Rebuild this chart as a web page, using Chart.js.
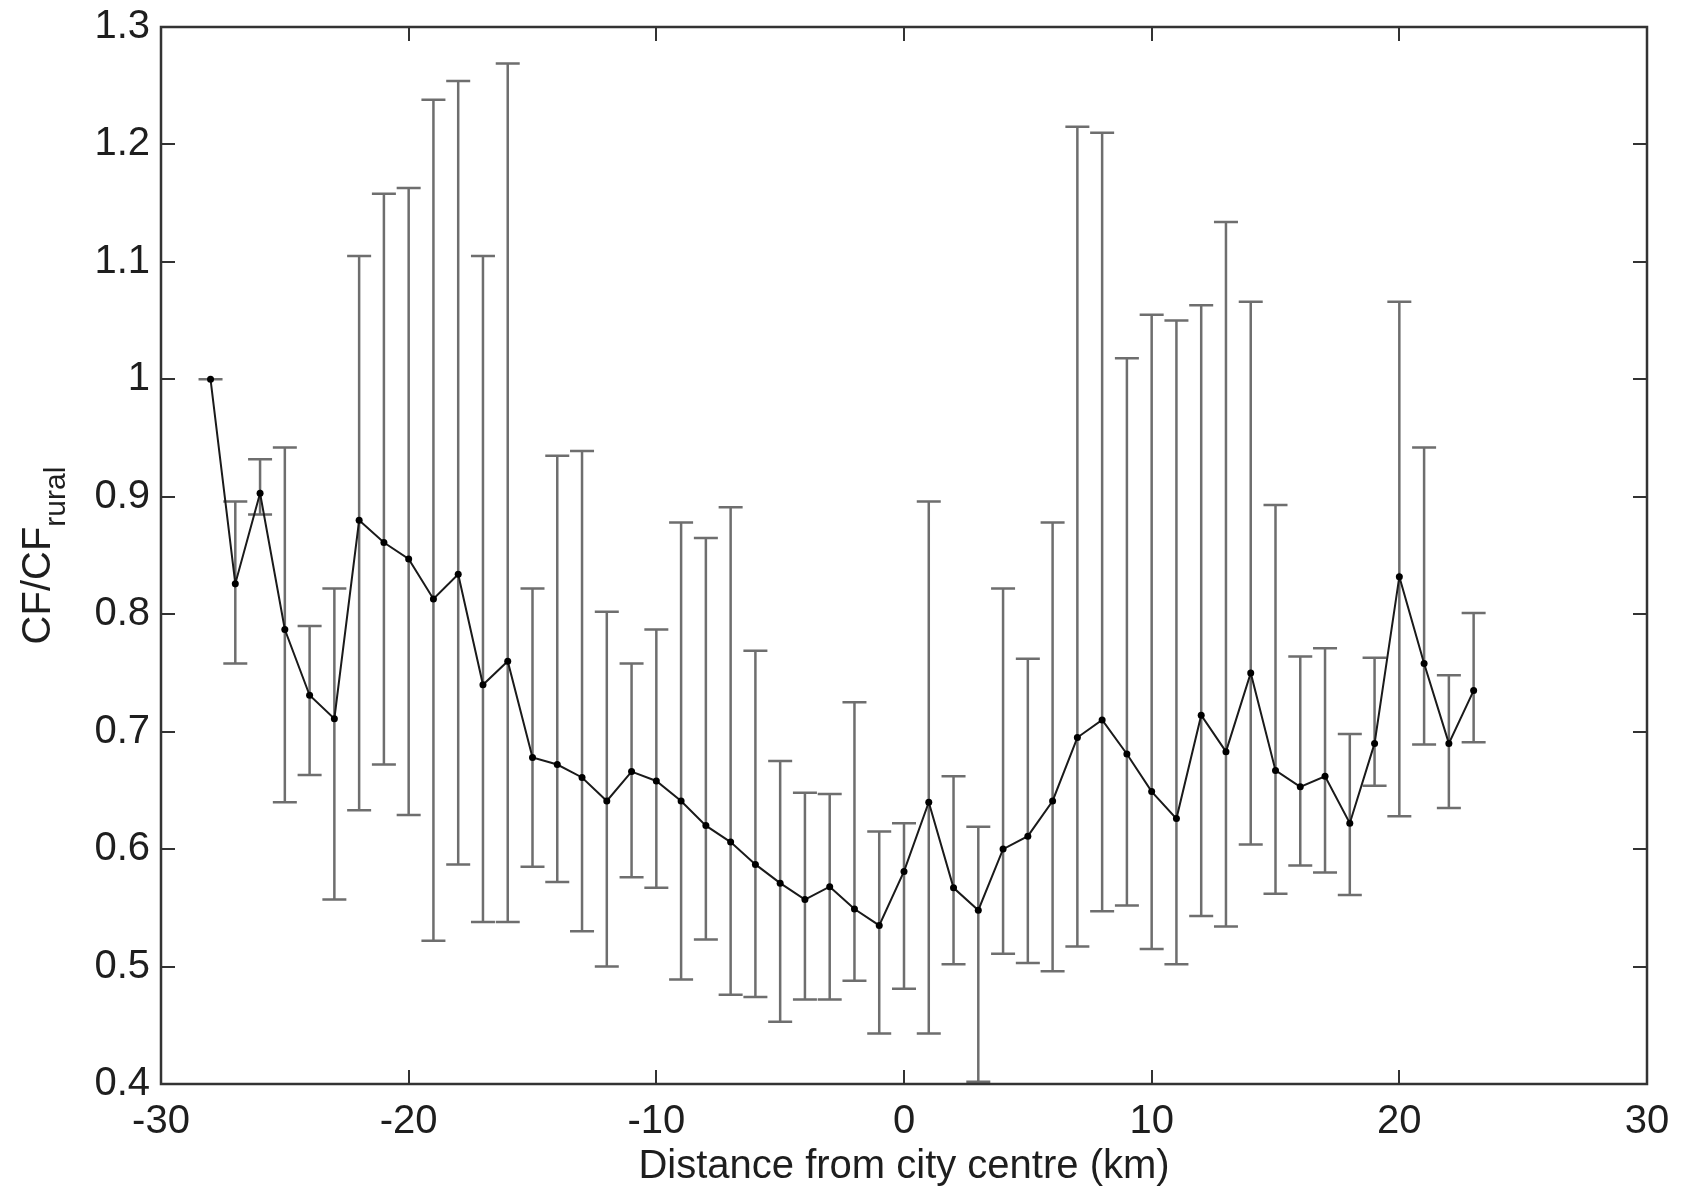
<!DOCTYPE html>
<html>
<head>
<meta charset="utf-8">
<title>CF/CF rural vs distance from city centre</title>
<script src="https://cdn.jsdelivr.net/npm/chart.js@4.4.1/dist/chart.umd.min.js"></script>
<style>
  html, body { margin: 0; padding: 0; background: #fff; }
  #wrap { width: 1686px; height: 1201px; }
</style>
</head>
<body>
<div id="wrap"><canvas id="cfChart" width="1686" height="1201"></canvas></div>
<script>
// distance from city centre (km)
const distance = [-28, -27, -26, -25, -24, -23, -22, -21, -20, -19, -18, -17, -16, -15, -14, -13, -12, -11, -10, -9,
  -8, -7, -6, -5, -4, -3, -2, -1, 0, 1, 2, 3, 4, 5, 6, 7, 8, 9, 10, 11,
  12, 13, 14, 15, 16, 17, 18, 19, 20, 21, 22, 23];
// CF/CF_rural mean
const ratio = [1.000, 0.826, 0.903, 0.787, 0.731, 0.711, 0.880, 0.861, 0.847, 0.813, 0.834, 0.740, 0.760, 0.678, 0.672, 0.661, 0.641, 0.666, 0.658, 0.641,
  0.620, 0.606, 0.587, 0.571, 0.557, 0.568, 0.549, 0.535, 0.581, 0.640, 0.567, 0.548, 0.600, 0.611, 0.641, 0.695, 0.710, 0.681, 0.649, 0.626,
  0.714, 0.683, 0.750, 0.667, 0.653, 0.662, 0.622, 0.690, 0.832, 0.758, 0.690, 0.735];
// error bar top
const upperBound = [1.000, 0.896, 0.932, 0.942, 0.790, 0.822, 1.105, 1.158, 1.163, 1.238, 1.254, 1.105, 1.269, 0.822, 0.935, 0.939, 0.802, 0.758, 0.787, 0.878,
  0.865, 0.891, 0.769, 0.675, 0.648, 0.647, 0.725, 0.615, 0.622, 0.896, 0.662, 0.619, 0.822, 0.762, 0.878, 1.215, 1.210, 1.018, 1.055, 1.050,
  1.063, 1.134, 1.066, 0.893, 0.764, 0.771, 0.698, 0.763, 1.066, 0.942, 0.748, 0.801];
// error bar bottom
const lowerBound = [1.000, 0.758, 0.885, 0.640, 0.663, 0.557, 0.633, 0.672, 0.629, 0.522, 0.587, 0.538, 0.538, 0.585, 0.572, 0.530, 0.500, 0.576, 0.567, 0.489,
  0.523, 0.476, 0.474, 0.453, 0.472, 0.472, 0.488, 0.443, 0.481, 0.443, 0.502, 0.402, 0.511, 0.503, 0.496, 0.517, 0.547, 0.552, 0.515, 0.502,
  0.543, 0.534, 0.604, 0.562, 0.586, 0.580, 0.561, 0.654, 0.628, 0.689, 0.635, 0.691];

const fontFamily = "'Liberation Sans', Arial, Helvetica, sans-serif";
const axisColor = '#333';
const textColor = '#1e1e1e';

/**
 * error bars, drawn under the line
 */
const errorBarPlugin = {
  id: 'errorBars',
  beforeDatasetsDraw(chart) {
    const ctx = chart.ctx;
    const xs = chart.scales.x, ys = chart.scales.y;
    const capHalf = 12;
    ctx.save();
    ctx.strokeStyle = '#6e6e6e';
    ctx.lineWidth = 2.5;
    distance.forEach((d, i) => {
      const px = xs.getPixelForValue(d);
      const top = ys.getPixelForValue(upperBound[i]);
      const bot = ys.getPixelForValue(lowerBound[i]);
      ctx.beginPath();
      ctx.moveTo(px, top); ctx.lineTo(px, bot);
      ctx.moveTo(px - capHalf, top); ctx.lineTo(px + capHalf, top);
      ctx.moveTo(px - capHalf, bot); ctx.lineTo(px + capHalf, bot);
      ctx.stroke();
    });
    ctx.restore();
  }
};

/**
 * box, inward ticks on all sides, axis titles
 */
const framePlugin = {
  id: 'frame',
  afterDraw(chart) {
    const ctx = chart.ctx;
    const a = chart.chartArea;
    const xs = chart.scales.x, ys = chart.scales.y;
    const tickLen = 14;
    ctx.save();
    ctx.strokeStyle = axisColor;
    ctx.lineWidth = 2;
    // inward ticks
    ctx.beginPath();
    xs.ticks.forEach(t => {
      const px = Math.round(xs.getPixelForValue(t.value));
      ctx.moveTo(px, a.bottom); ctx.lineTo(px, a.bottom - tickLen);
      ctx.moveTo(px, a.top); ctx.lineTo(px, a.top + tickLen);
    });
    ys.ticks.forEach(t => {
      const py = Math.round(ys.getPixelForValue(t.value));
      ctx.moveTo(a.left, py); ctx.lineTo(a.left + tickLen, py);
      ctx.moveTo(a.right, py); ctx.lineTo(a.right - tickLen, py);
    });
    ctx.stroke();
    // box
    ctx.lineWidth = 2.5;
    ctx.strokeRect(a.left, a.top, a.right - a.left, a.bottom - a.top);

    // x title
    ctx.fillStyle = textColor;
    ctx.font = '40px ' + fontFamily;
    ctx.textAlign = 'center';
    ctx.textBaseline = 'middle';
    ctx.fillText('Distance from city centre (km)', (a.left + a.right) / 2, a.bottom + 83);

    // y title with subscript
    const mainTxt = 'CF/CF', subTxt = 'rural';
    ctx.font = '40px ' + fontFamily;
    const w1 = ctx.measureText(mainTxt).width;
    ctx.font = '30px ' + fontFamily;
    const w2 = ctx.measureText(subTxt).width;
    ctx.translate(50, (a.top + a.bottom) / 2);
    ctx.rotate(-Math.PI / 2);
    ctx.textAlign = 'left';
    ctx.textBaseline = 'alphabetic';
    const start = -(w1 + w2) / 2;
    ctx.font = '40px ' + fontFamily;
    ctx.fillText(mainTxt, start, 0);
    ctx.font = '30px ' + fontFamily;
    ctx.fillText(subTxt, start + w1, 15);
    ctx.restore();
  }
};

const ctxLine = document.getElementById('cfChart').getContext('2d');
const configLine = {
  type: 'line',
  data: {
    datasets: [{
      data: distance.map((d, i) => ({ x: d, y: ratio[i] })),
      borderColor: '#1a1a1a',
      borderWidth: 2,
      pointRadius: 3.5,
      pointBackgroundColor: '#000',
      pointBorderWidth: 0,
      tension: 0,
      fill: false
    }]
  },
  options: {
    responsive: false,
    animation: false,
    layout: { padding: { top: 27, right: 39, left: 0, bottom: 0 } },
    plugins: { legend: { display: false }, tooltip: { enabled: false } },
    scales: {
      x: {
        type: 'linear', min: -30, max: 30,
        ticks: { stepSize: 10, color: textColor, padding: 14, font: { family: fontFamily, size: 40 } },
        grid: { display: false, drawTicks: false },
        border: { display: false },
        afterFit(s) { s.height = 117; }
      },
      y: {
        type: 'linear', min: 0.4, max: 1.3,
        ticks: {
          stepSize: 0.1, color: textColor, padding: 11, font: { family: fontFamily, size: 40 },
          // MATLAB style: 1 instead of 1.0
          callback: (v) => String(Math.round(v * 10) / 10)
        },
        grid: { display: false, drawTicks: false },
        border: { display: false },
        afterFit(s) {
          s.width = 161;
          // let the layout padding decide the top/bottom edges
          s.paddingTop = 0;
          s.paddingBottom = 0;
        }
      }
    }
  },
  plugins: [errorBarPlugin, framePlugin]
};
const lineChart = new Chart(ctxLine, configLine);
</script>
</body>
</html>
